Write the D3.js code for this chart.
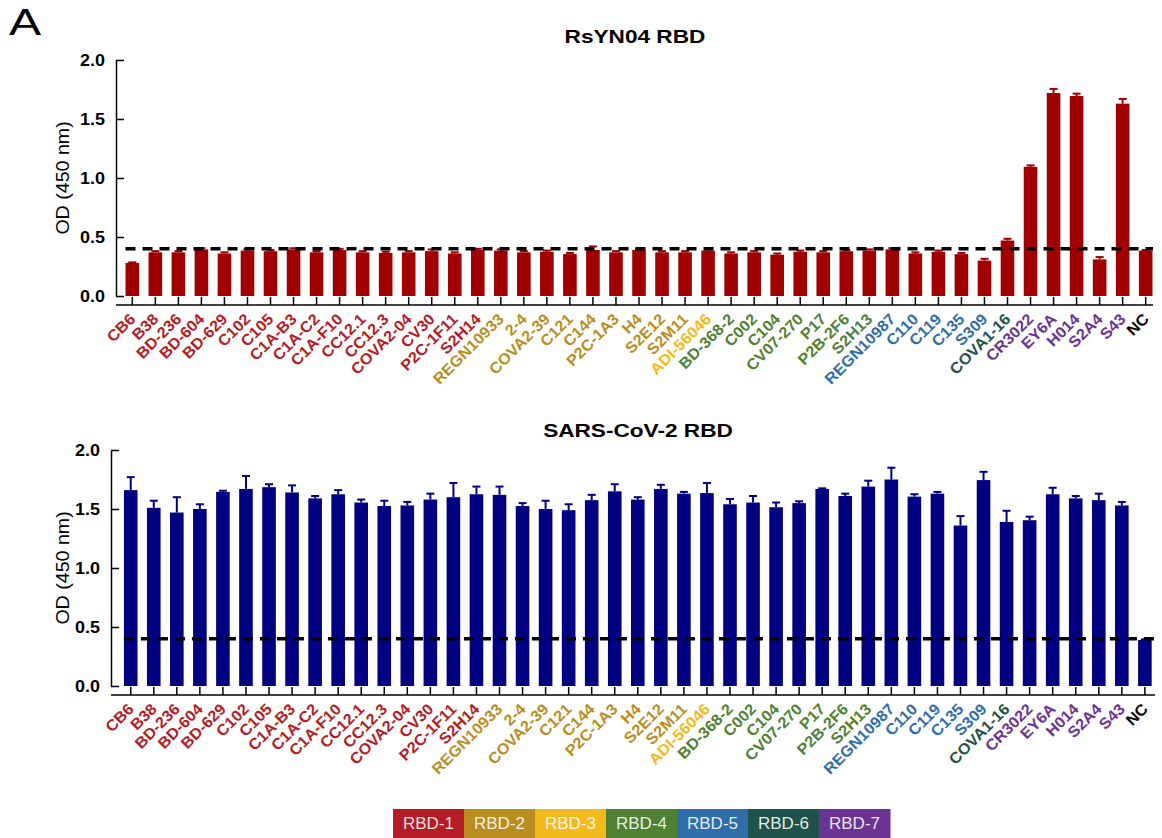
<!DOCTYPE html>
<html>
<head>
<meta charset="utf-8">
<script src="https://cdn.jsdelivr.net/npm/d3@7"></script>
<style>
  html, body { margin: 0; padding: 0; background: #fff; }
  svg { display: block; }
  text { font-family: "Liberation Sans", Arial, Helvetica, sans-serif; }
</style>
</head>
<body>
<svg id="chart" width="1162" height="838"></svg>
<script>
// ---------------- DATA ----------------
const categories = ["CB6","B38","BD-236","BD-604","BD-629","C102","C105","C1A-B3","C1A-C2","C1A-F10","CC12.1","CC12.3","COVA2-04","CV30","P2C-1F11","S2H14",
  "REGN10933","2-4","COVA2-39","C121","C144","P2C-1A3","H4","S2E12","S2M11",
  "ADI-56046",
  "BD-368-2","C002","C104","CV07-270","P17","P2B-2F6","S2H13",
  "REGN10987","C110","C119","C135","S309",
  "COVA1-16",
  "CR3022","EY6A","H014","S2A4","S43",
  "NC"];
const categoryGroups = ["RBD-1","RBD-1","RBD-1","RBD-1","RBD-1","RBD-1","RBD-1","RBD-1","RBD-1","RBD-1","RBD-1","RBD-1","RBD-1","RBD-1","RBD-1","RBD-1",
  "RBD-2","RBD-2","RBD-2","RBD-2","RBD-2","RBD-2","RBD-2","RBD-2","RBD-2",
  "RBD-3",
  "RBD-4","RBD-4","RBD-4","RBD-4","RBD-4","RBD-4","RBD-4",
  "RBD-5","RBD-5","RBD-5","RBD-5","RBD-5",
  "RBD-6",
  "RBD-7","RBD-7","RBD-7","RBD-7","RBD-7",
  "NC"];
const rsyn04Values = [0.28,0.37,0.37,0.395,0.36,0.385,0.38,0.395,0.37,0.39,0.37,0.365,0.37,0.38,0.36,0.39,
  0.385,0.37,0.375,0.355,0.39,0.37,0.39,0.37,0.37,
  0.385,
  0.36,0.37,0.35,0.375,0.37,0.38,0.385,
  0.395,0.36,0.375,0.355,0.30,
  0.47,
  1.095,1.72,1.695,0.31,1.63,
  0.385];
const rsyn04Errors = [0.005,0.01,0.01,0.01,0.01,0.01,0.01,0.01,0.01,0.01,0.01,0.01,0.01,0.015,0.01,0.01,
  0.01,0.01,0.01,0.01,0.03,0.01,0.01,0.01,0.01,
  0.01,
  0.01,0.01,0.01,0.01,0.01,0.01,0.01,
  0.01,0.01,0.01,0.01,0.015,
  0.015,
  0.012,0.035,0.02,0.02,0.04,
  0.005];
const sarsValues = [1.66,1.51,1.47,1.50,1.645,1.67,1.685,1.64,1.59,1.625,1.555,1.525,1.53,1.58,1.60,1.625,
  1.62,1.525,1.50,1.49,1.575,1.65,1.58,1.67,1.63,
  1.635,
  1.54,1.555,1.515,1.55,1.67,1.61,1.69,
  1.75,1.605,1.63,1.36,1.745,
  1.39,
  1.405,1.625,1.59,1.575,1.53,
  0.39];
const sarsErrors = [0.11,0.06,0.13,0.04,0.01,0.11,0.025,0.06,0.02,0.035,0.025,0.045,0.03,0.05,0.12,0.065,
  0.07,0.025,0.07,0.05,0.045,0.06,0.02,0.035,0.015,
  0.085,
  0.045,0.055,0.04,0.015,0.005,0.02,0.05,
  0.10,0.02,0.015,0.08,0.07,
  0.095,
  0.03,0.055,0.02,0.055,0.03,
  0.005];
const cutoff = 0.4;
const yTicks = [0, 0.5, 1.0, 1.5, 2.0];
const legendGroups = ["RBD-1","RBD-2","RBD-3","RBD-4","RBD-5","RBD-6","RBD-7"];
const groupColors = ["#b51c25","#b98e1e","#f2ba1c","#4f8133","#2f6ea9","#1f5248","#6b3493"];
const titles = ["RsYN04 RBD","SARS-CoV-2 RBD"];
const yLabel = "OD (450 nm)";

// ---------------- HELPERS ----------------
const FONT = '"Liberation Sans", Arial, Helvetica, sans-serif';
const colorOf = d3.scaleOrdinal().domain(legendGroups.concat(["NC"])).range(groupColors.concat(["#000000"]));
function stretch(sel, f) {
  sel.each(function () {
    const l = this.getComputedTextLength();
    this.setAttribute("textLength", (l * f).toFixed(2));
    this.setAttribute("lengthAdjust", "spacingAndGlyphs");
  });
}

const svg = d3.select("#chart");
svg.append("rect").attr("width", 1162).attr("height", 838).attr("fill", "#fff");

// Panel letter
svg.append("text").attr("x", 9).attr("y", 35)
  .attr("font-size", 37).attr("fill", "#000").text("A").call(stretch, 1.3);

const panels = [
  { values: rsyn04Values, errors: rsyn04Errors, color: "#a00000", title: titles[0],
    y0: 296, y1: 60, axisX: 116, xAxisY: 305, xStart: 120.8, xEnd: 1157.2, lineEnd: 1153, titleY: 43, titleX: 635 },
  { values: sarsValues, errors: sarsErrors, color: "#000080", title: titles[1],
    y0: 686, y1: 450, axisX: 111, xAxisY: 695, xStart: 119.2, xEnd: 1156.4, lineEnd: 1155, titleY: 437, titleX: 638 }
];

panels.forEach(p => {
  const g = svg.append("g");
  const x = d3.scaleBand().domain(categories).range([p.xStart, p.xEnd]).paddingInner(0.41).paddingOuter(0.205);
  const y = d3.scaleLinear().domain([0, 2]).range([p.y0, p.y1]);

  // bars
  const rows = categories.map((c, i) => ({ c, v: p.values[i], e: p.errors[i] }));
  g.selectAll("rect.bar").data(rows).join("rect").attr("class", "bar")
    .attr("x", d => x(d.c)).attr("width", x.bandwidth())
    .attr("y", d => y(d.v)).attr("height", d => y(0) - y(d.v))
    .attr("fill", p.color);

  // error bars (upper)
  const eb = g.selectAll("g.err").data(rows).join("g").attr("class", "err");
  eb.append("line")
    .attr("x1", d => x(d.c) + x.bandwidth() / 2).attr("x2", d => x(d.c) + x.bandwidth() / 2)
    .attr("y1", d => y(d.v)).attr("y2", d => y(d.v + d.e))
    .attr("stroke", p.color).attr("stroke-width", 2);
  eb.append("line")
    .attr("x1", d => x(d.c) + x.bandwidth() / 2 - 4).attr("x2", d => x(d.c) + x.bandwidth() / 2 + 4)
    .attr("y1", d => y(d.v + d.e)).attr("y2", d => y(d.v + d.e))
    .attr("stroke", p.color).attr("stroke-width", 2);

  // cutoff dashed line
  g.append("line")
    .attr("x1", x(categories[0])).attr("x2", p.lineEnd)
    .attr("y1", y(cutoff)).attr("y2", y(cutoff))
    .attr("stroke", "#000").attr("stroke-width", 3.5).attr("stroke-dasharray", "10,7");

  // y axis
  const ya = g.append("g").attr("transform", `translate(${p.axisX},0)`)
    .call(d3.axisLeft(y).tickValues(yTicks).tickFormat(d3.format(".1f")).tickSizeInner(-8).tickSizeOuter(0).tickPadding(11));
  ya.select(".domain").attr("stroke", "#000").attr("stroke-width", 1.5);
  ya.selectAll(".tick line").attr("stroke", "#000").attr("stroke-width", 1.5);
  ya.selectAll(".tick text").attr("font-family", FONT).attr("font-size", 16).attr("font-weight", "bold").attr("fill", "#000")
    .call(stretch, 1.12);

  // x axis
  const xa = g.append("g").attr("transform", `translate(0,${p.xAxisY})`)
    .call(d3.axisBottom(x).tickSizeInner(-8).tickSizeOuter(0).tickFormat(""));
  xa.select(".domain").remove();
  xa.selectAll(".tick line").attr("stroke", "#000").attr("stroke-width", 1.5);
  g.append("line").attr("x1", p.axisX).attr("x2", p.lineEnd)
    .attr("y1", p.xAxisY).attr("y2", p.xAxisY).attr("stroke", "#000").attr("stroke-width", 1.5);

  // x labels
  g.selectAll("text.xl").data(categories).join("text").attr("class", "xl")
    .attr("transform", (d) => `translate(${x(d) + x.bandwidth() / 2 + 4},${p.xAxisY + 15}) rotate(-45)`)
    .attr("text-anchor", "end")
    .attr("font-size", 15.5).attr("font-weight", "bold")
    .attr("fill", (d, i) => colorOf(categoryGroups[i]))
    .text(d => d)
    .call(stretch, 1.05);

  // title
  g.append("text").attr("x", p.titleX).attr("y", p.titleY).attr("text-anchor", "middle")
    .attr("font-size", 19).attr("font-weight", "bold").attr("fill", "#000").text(p.title)
    .call(stretch, 1.19);

  // y label
  g.append("text")
    .attr("transform", `translate(69,${(p.y0 + p.y1) / 2}) rotate(-90)`)
    .attr("text-anchor", "middle").attr("font-size", 17.5).attr("fill", "#000")
    .text(yLabel).call(stretch, 1.12);
});

// legend
const lx = d3.scaleBand().domain(legendGroups).range([393, 890]);
const lg = svg.append("g");
lg.selectAll("rect").data(legendGroups).join("rect")
  .attr("x", d => lx(d)).attr("y", 809).attr("width", lx.bandwidth() + 0.5).attr("height", 29)
  .attr("fill", d => colorOf(d));
lg.selectAll("text").data(legendGroups).join("text")
  .attr("x", d => lx(d) + lx.bandwidth() / 2).attr("y", 829)
  .attr("text-anchor", "middle").attr("font-size", 17).attr("fill", "rgba(255,255,255,0.88)")
  .text(d => d);
</script>
</body>
</html>
